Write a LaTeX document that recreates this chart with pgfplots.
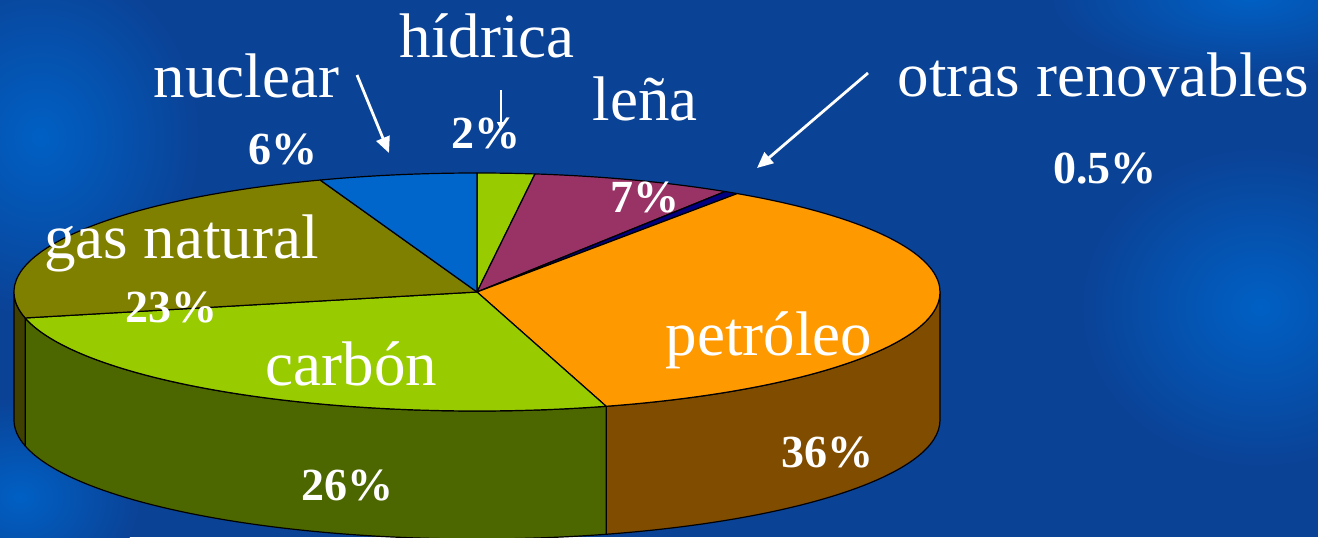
\documentclass[border=0pt]{standalone}
\usepackage{pgfplots}
\pgfplotsset{compat=1.18}
\usepackage{pgfplotstable}
\usetikzlibrary{arrows.meta}
\usepackage{fontspec}
\setmainfont{Liberation Serif}

\definecolor{bgblue}{RGB}{10,66,150}
\definecolor{bglight}{RGB}{0,96,196}
\definecolor{cnuclear}{RGB}{0,102,204}
\definecolor{chidrica}{RGB}{153,204,0}
\definecolor{clena}{RGB}{153,51,102}
\definecolor{cotras}{RGB}{0,0,128}
\definecolor{cpetroleo}{RGB}{255,153,0}
\definecolor{cpetroleoside}{RGB}{128,76,0}
\definecolor{ccarbon}{RGB}{153,204,0}
\definecolor{ccarbonside}{RGB}{76,102,0}
\definecolor{cgas}{RGB}{128,128,0}
\definecolor{cgasside}{RGB}{64,64,0}

% energy shares (%), clockwise from 12 o'clock (1% = 3.6 degrees)
\pgfplotstableread{
id name value
0 hidrica 2
1 lena 7
2 otras 0.5
3 petroleo 36
4 carbon 26
5 gas 23
6 nuclear 6
}\piedata

\newcommand{\pa}[1]{\csname pieang#1\endcsname}
\newcommand{\computeangles}{%
  \def\piecum{0}%
  \expandafter\xdef\csname pieang0\endcsname{90}%
  \pgfplotsforeachungrouped \i in {0,...,5}{%
    \pgfplotstablegetelem{\i}{value}\of\piedata
    \pgfmathsetmacro\piecum{\piecum+\pgfplotsretval}%
    \pgfmathtruncatemacro\j{\i+1}%
    \pgfmathsetmacro\tmp{90-3.6*\piecum}%
    \expandafter\xdef\csname pieang\j\endcsname{\tmp}%
  }%
  % last slice closes the circle
  \expandafter\xdef\csname pieang7\endcsname{-270}%
  % visible (front) parts of the side wall: angles between 0 and -180
  \pgfmathsetmacro\tmp{min(\pa{3},0)}\xdef\sPs{\tmp}%
  \pgfmathsetmacro\tmp{max(\pa{4},-180)}\xdef\sPe{\tmp}%
  \pgfmathsetmacro\tmp{min(\pa{4},0)}\xdef\sCs{\tmp}%
  \pgfmathsetmacro\tmp{max(\pa{5},-180)}\xdef\sCe{\tmp}%
  \pgfmathsetmacro\tmp{min(\pa{5},0)}\xdef\sGs{\tmp}%
  \pgfmathsetmacro\tmp{max(\pa{6},-180)}\xdef\sGe{\tmp}%
}

% top face of slice between angles #1 and #2
\newcommand{\pietop}[3]{%
  \filldraw[fill=#3, draw=black, line width=0.6pt, line join=round]
    (axis cs:477,245) -- ([shift={(#1:231.5pt and 59.5pt)}]axis cs:477,245)
    arc[start angle=#1, end angle=#2, x radius=231.5pt, y radius=59.5pt] -- cycle;}
% side wall between angles #1 and #2
\newcommand{\pieside}[3]{%
  \filldraw[fill=#3, draw=black, line width=0.6pt, line join=round]
    ([shift={(#1:231.5pt and 59.5pt)}]axis cs:477,245)
    arc[start angle=#1, end angle=#2, x radius=231.5pt, y radius=59.5pt]
    -- ++(0pt,-64pt)
    arc[start angle=#2, end angle=#1, x radius=231.5pt, y radius=59.5pt] -- cycle;}

\newcommand{\lab}{\fontsize{31.5pt}{36pt}\selectfont}
\newcommand{\pct}{\fontsize{23pt}{27pt}\selectfont\bfseries}

\begin{document}
\begin{tikzpicture}
\computeangles
\begin{axis}[name=ax, width=659pt, height=268.5pt, scale only axis,
  xmin=0, xmax=1318, ymin=0, ymax=537, hide axis, clip=false]
  % background
  \fill[bgblue] (axis cs:0,0) rectangle (axis cs:1318,537);
  \shade[inner color=bglight, outer color=bgblue] (axis cs:40,400) ellipse[x radius=80pt, y radius=90pt];
  \shade[inner color=bglight, outer color=bgblue] (axis cs:1260,230) ellipse[x radius=90pt, y radius=80pt];
  \shade[inner color=bglight, outer color=bgblue] (axis cs:1250,540) ellipse[x radius=100pt, y radius=40pt];
  \shade[inner color=bglight, outer color=bgblue] (axis cs:20,40) ellipse[x radius=60pt, y radius=50pt];
  % side walls
  \pieside{\sPs}{\sPe}{cpetroleoside}
  \pieside{\sCs}{\sCe}{ccarbonside}
  \pieside{\sGs}{\sGe}{cgasside}
  % top faces
  \pietop{\pa{0}}{\pa{1}}{chidrica}
  \pietop{\pa{1}}{\pa{2}}{clena}
  \pietop{\pa{2}}{\pa{3}}{cotras}
  \pietop{\pa{3}}{\pa{4}}{cpetroleo}
  \pietop{\pa{4}}{\pa{5}}{ccarbon}
  \pietop{\pa{5}}{\pa{6}}{cgas}
  \pietop{\pa{6}}{\pa{7}}{cnuclear}
  % labels
  \begin{scope}[every node/.style={text=white, anchor=base, inner sep=0pt}]
  \node at (axis cs:487,480) {\lab hídrica};
  \node at (axis cs:246.5,439) {\lab nuclear};
  \node at (axis cs:645,416) {\lab leña};
  \node at (axis cs:1103.5,441) {\lab otras renovables};
  \node at (axis cs:181.5,279) {\lab gas natural};
  \node at (axis cs:351.5,152) {\lab carbón};
  \node at (axis cs:769,182) {\lab petróleo};
  \node at (axis cs:283,373) {\pct 6\%};
  \node at (axis cs:486,389) {\pct 2\%};
  \node at (axis cs:645,325) {\pct 7\%};
  \node at (axis cs:1105,354) {\pct 0.5\%};
  \node at (axis cs:172,215) {\pct 23\%};
  \node at (axis cs:347.5,37) {\pct 26\%};
  \node at (axis cs:827.5,70) {\pct 36\%};
  \end{scope}
  % arrows
  \draw[white, line width=1.4pt, -{Triangle[length=8pt,width=7pt]}] (axis cs:357,462) -- (axis cs:389,384);
  \draw[white, line width=1.4pt, -{Triangle[length=8pt,width=7pt]}] (axis cs:868,464) -- (axis cs:757,369);
  \draw[white, line width=0.8pt, -{Triangle[length=4pt,width=4pt]}] (axis cs:501,447) -- (axis cs:501,407);
\end{axis}
\pgfresetboundingbox
\path (ax.south west) rectangle (ax.north east);
\end{tikzpicture}
\end{document}
